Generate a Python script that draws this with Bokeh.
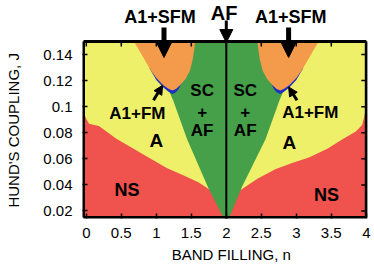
from bokeh.plotting import figure
from bokeh.models import (ColumnDataSource, FixedTicker, Range1d, Arrow, NormalHead, Label)
from bokeh.core.properties import value
from bokeh.embed import file_html
from bokeh.resources import INLINE

FONT = "Liberation Sans"
NB = "\u00a0"

# ---- axes ----
x_ticks = [0, 0.5, 1, 1.5, 2, 2.5, 3, 3.5, 4]
x_tick_labels = ["0", "0.5", "1", "1.5", "2", "2.5", "3", "3.5", "4"]
y_ticks = [0.02, 0.04, 0.06, 0.08, 0.1, 0.12, 0.14]
y_tick_labels = ["0.02", "0.04", "0.06", "0.08", "0.1", "0.12", "0.14"]
n_min, n_max = -0.04, 4.0
J_min, J_max = 0.015, 0.15

# ---- phase regions (band filling n, Hund's coupling J) ----
# A phase (yellow) fills the diagram box
A_n = [n_min, n_max, n_max, n_min]
A_J = [J_min, J_min, J_max, J_max]

# NS phase (red)
NS_n = [-0.04, -0.04, 0.0, 0.04, 0.18, 0.43, 0.70, 0.92, 1.15, 1.40, 1.60, 1.76, 2.0,
        2.22, 2.45, 2.70, 2.95, 3.18, 3.45, 3.66, 3.85, 3.94, 3.97, 4.0, 4.0]
NS_J = [0.015, 0.096, 0.0905, 0.087, 0.0852, 0.0754, 0.067, 0.060, 0.053, 0.047, 0.042, 0.0365, 0.030,
        0.0367, 0.045, 0.052, 0.057, 0.061, 0.068, 0.075, 0.081, 0.086, 0.092, 0.100, 0.015]

# SC + AF phase (green)
SCAF_n = [2.0, 1.95, 1.74, 1.44, 1.24, 1.18, 1.22, 1.35, 2.65, 2.78, 2.82, 2.76, 2.56, 2.22, 2.05, 2.0]
SCAF_J = [0.012, 0.016, 0.038, 0.075, 0.105, 0.1125, 0.115, 0.15, 0.15, 0.115, 0.1125, 0.105,
          0.075, 0.038, 0.016, 0.012]

# A1 + SFM phase (orange), left and right lobes
SFM_left_n = [0.68, 0.80, 0.92, 1.00, 1.10, 1.18, 1.23, 1.28, 1.34, 1.42, 1.48, 1.52, 1.545, 1.555]
SFM_left_J = [0.150, 0.139, 0.128, 0.122, 0.1165, 0.1135, 0.1125, 0.1135, 0.1165, 0.1215,
              0.1275, 0.136, 0.145, 0.150]
SFM_right_n = [3.32, 3.20, 3.08, 3.00, 2.90, 2.82, 2.77, 2.72, 2.66, 2.58, 2.52, 2.48, 2.455, 2.445]
SFM_right_J = [0.150, 0.139, 0.128, 0.122, 0.1165, 0.1135, 0.1125, 0.1135, 0.1165, 0.1215,
               0.1275, 0.136, 0.145, 0.150]

# A1 + FM phase (blue), thin strips under the orange lobes
FM_left_n = [0.90, 1.00, 1.10, 1.18, 1.23, 1.28, 1.32, 1.36, 1.20, 0.95]
FM_left_J = [0.1297, 0.1205, 0.1148, 0.1112, 0.1098, 0.1110, 0.1135, 0.118, 0.125, 0.130]
FM_right_n = [3.10, 3.00, 2.90, 2.82, 2.77, 2.72, 2.68, 2.64, 2.80, 3.05]
FM_right_J = [0.1297, 0.1205, 0.1148, 0.1112, 0.1098, 0.1110, 0.1135, 0.118, 0.125, 0.130]

# AF phase: the line at half filling
AF_n = 2.0

# ---- region labels ----
lab_text = ["NS", "NS", "A", "A", "SC", "+", "AF", "SC", "+", "AF", "A1+FM", "A1+FM"]
lab_n = [0.58, 3.43, 1.00, 2.90, 1.655, 1.655, 1.655, 2.27, 2.27, 2.27, 0.73, 3.20]
lab_J = [0.0358, 0.0323, 0.0738, 0.0727, 0.1123, 0.0960, 0.0815, 0.1123, 0.0960, 0.0815, 0.0946, 0.0954]
lab_size = ["18px", "18px", "19px", "19px", "17px", "17px", "17px", "17px", "17px", "17px", "17px", "17px"]

YELLOW = "#EEF06A"
RED = "#F0524E"
GREEN = "#45A049"
ORANGE = "#F39A4B"
BLUE = "#1C2FC4"
BOX = "black"

# ---- view geometry (pixels) ----
W, H = 374, 271
B_LEFT, B_RIGHT, B_BOTTOM = 82, 7, 53
BOX_TOP_PX = 41
PX_N = 70.0
PX_J = 176.0 / (J_max - J_min)
x_lo = n_min - 1.0 / PX_N
x_hi = x_lo + (W - B_LEFT - B_RIGHT) / PX_N
y_lo = J_min - 1.0 / PX_J
y_hi = J_max + BOX_TOP_PX / PX_J

p = figure(width=W, height=H, x_range=Range1d(x_lo, x_hi), y_range=Range1d(y_lo, y_hi),
           output_backend="svg", toolbar_location=None, title=None,
           min_border_left=B_LEFT, min_border_right=B_RIGHT, min_border_top=0,
           min_border_bottom=B_BOTTOM,
           x_axis_label=NB * 3 + "BAND FILLING, n", y_axis_label="HUND'S COUPLING, J" + NB * 10)
p.grid.visible = False
p.outline_line_color = None
p.background_fill_color = "white"
p.border_fill_color = "white"

p.patch(A_n, A_J, fill_color=YELLOW, line_color=None)
p.patch(NS_n, NS_J, fill_color=RED, line_color=None)
p.patch(SCAF_n, SCAF_J, fill_color=GREEN, line_color=None)
p.patch(FM_left_n, FM_left_J, fill_color=BLUE, line_color=None)
p.patch(FM_right_n, FM_right_J, fill_color=BLUE, line_color=None)
p.patch(SFM_left_n, SFM_left_J, fill_color=ORANGE, line_color=None)
p.patch(SFM_right_n, SFM_right_J, fill_color=ORANGE, line_color=None)

# AF line at half filling
p.segment(x0=[AF_n], y0=[J_min], x1=[AF_n], y1=[J_max], line_color="black", line_width=2)

# ticks on the top and right edges of the box
tick_J = 5.0 / PX_J
tick_n = 5.0 / PX_N
p.segment(x0=x_ticks, y0=[J_max] * len(x_ticks), x1=x_ticks, y1=[J_max - tick_J] * len(x_ticks),
          line_color=BOX, line_width=1.5)
p.segment(x0=[n_max] * len(y_ticks), y0=y_ticks, x1=[n_max - tick_n] * len(y_ticks), y1=y_ticks,
          line_color=BOX, line_width=1.5)

# box around the diagram: its four edges
box_x0 = [A_n[0], A_n[1], A_n[2], A_n[3]]
box_y0 = [A_J[0], A_J[1], A_J[2], A_J[3]]
box_x1 = [A_n[1], A_n[2], A_n[3], A_n[0]]
box_y1 = [A_J[1], A_J[2], A_J[3], A_J[0]]
p.segment(x0=box_x0, y0=box_y0, x1=box_x1, y1=box_y1, line_color=BOX, line_width=3)

src = ColumnDataSource(dict(x=lab_n, y=lab_J, text=lab_text, size=lab_size))
p.text(x="x", y="y", text="text", source=src, text_font=value(FONT), text_font_style="bold",
       text_font_size="size", text_align="center", text_baseline="middle", text_color="black")

# axes
p.xaxis.ticker = FixedTicker(ticks=x_ticks)
p.xaxis.major_label_overrides = dict(zip(x_ticks, x_tick_labels))
p.yaxis.ticker = FixedTicker(ticks=y_ticks)
p.yaxis.major_label_overrides = dict(zip(y_ticks, y_tick_labels))
for ax in p.xaxis + p.yaxis:
    ax.major_tick_in = 5
    ax.major_tick_out = 0
    ax.minor_tick_in = 0
    ax.minor_tick_out = 0
    ax.axis_line_color = None
    ax.major_tick_line_width = 1.5
    ax.major_tick_line_color = BOX
    ax.major_label_text_font = FONT
    ax.major_label_text_font_size = "15px"
    ax.major_label_text_color = "black"
    ax.axis_label_text_font = FONT
    ax.axis_label_text_font_size = "15px"
    ax.axis_label_text_font_style = "normal"
    ax.axis_label_text_color = "black"
p.xaxis.major_label_standoff = 9
p.xaxis.axis_label_standoff = 5
p.yaxis.major_label_standoff = 10
p.yaxis.axis_label_standoff = 18

# arrows and labels above the diagram
head = dict(fill_color="black", line_color="black", line_width=1)
p.add_layout(Arrow(end=NormalHead(size=17, **head), x_start=1.11, y_start=0.1607,
                   x_end=1.11, y_end=0.1377, line_width=5, line_color="black"))
p.add_layout(Arrow(end=NormalHead(size=17, **head), x_start=2.89, y_start=0.1607,
                   x_end=2.89, y_end=0.1377, line_width=5, line_color="black"))
p.add_layout(Arrow(end=NormalHead(size=13, **head), x_start=2.0, y_start=0.1661,
                   x_end=2.0, y_end=0.1492, line_width=3, line_color="black"))
p.add_layout(Arrow(end=NormalHead(size=9, **head), x_start=0.96, y_start=0.1049,
                   x_end=1.09, y_end=0.1164, line_width=3, line_color="black"))
p.add_layout(Arrow(end=NormalHead(size=9, **head), x_start=3.01, y_start=0.1049,
                   x_end=2.89, y_end=0.1151, line_width=3, line_color="black"))

for txt, xx, yy, sz in (("A1+SFM", 1.054, 0.1685, "18px"), ("A1+SFM", 2.92, 0.1689, "18px"),
                        ("AF", 1.97, 0.1722, "20px")):
    p.add_layout(Label(x=xx, y=yy, text=txt, text_align="center", text_baseline="middle",
                       text_font=FONT, text_font_style="bold", text_font_size=sz,
                       text_color="black"))

open("out.html", "w").write(file_html(p, INLINE))
